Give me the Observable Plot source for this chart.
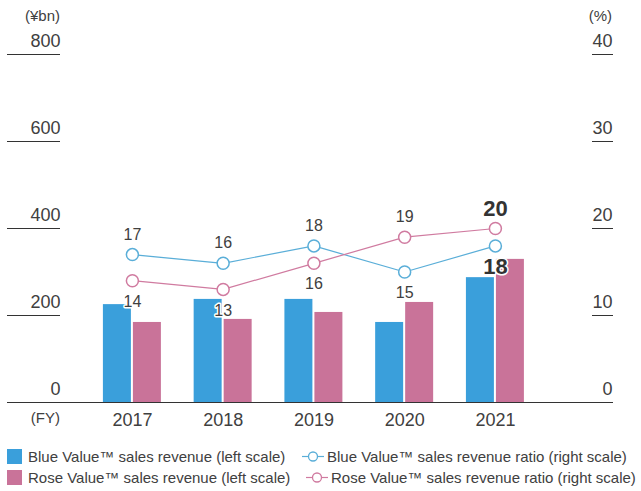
<!DOCTYPE html>
<html><head><meta charset="utf-8">
<script src="https://cdn.jsdelivr.net/npm/d3@7"></script>
<script src="https://cdn.jsdelivr.net/npm/@observablehq/plot@0.6"></script>
<style>
body{margin:0;background:#fff;}
#wrap{position:relative;width:641px;height:491px;font-family:'Liberation Sans',Arial,sans-serif;color:#404040;overflow:hidden;}
#chart svg{display:block;}
.abs{position:absolute;white-space:nowrap;font-size:15px;line-height:15px;}
.sw{position:absolute;width:15px;height:15px;}
</style></head><body><div id="wrap"><div id="chart"></div></div>
<script>
const years = ["2017", "2018", "2019", "2020", "2021"];
const blueRevenue = [225, 237, 237, 184, 287];
const roseRevenue = [184, 191, 207, 230, 329];
const blueRatio = [17, 16, 18, 15, 18];
const roseRatio = [14, 13, 16, 19, 20];
const leftTicks = [0, 200, 400, 600, 800];
const rightTicks = [0, 10, 20, 30, 40];
const boldYear = "2021";
const leftUnit = "(¥bn)";
const rightUnit = "(%)";
const xUnit = "(FY)";
const legendBars = ["Blue Value™ sales revenue (left scale)", "Rose Value™ sales revenue (left scale)"];
const legendLines = ["Blue Value™ sales revenue ratio (right scale)", "Rose Value™ sales revenue ratio (right scale)"];

const blueBar = "#3a9fdb", roseBar = "#c97399";
const blueLine = "#5aaed8", roseLine = "#d07ba0";
const ink = "#404040";
const ratioToLeft = leftTicks[leftTicks.length - 1] / rightTicks[rightTicks.length - 1];

const rows = years.map((year, i) => ({year, blue: blueRevenue[i], rose: roseRevenue[i], blueR: blueRatio[i], roseR: roseRatio[i]}));
const labelRows = rows.flatMap(d => [
  {year: d.year, v: d.blueR, above: d.blueR >= d.roseR},
  {year: d.year, v: d.roseR, above: d.roseR > d.blueR}
]);
const pick = (above, bold) => labelRows.filter(d => d.above === above && (d.year === boldYear) === bold);
const labelMark = (above, bold) => Plot.text(pick(above, bold), {
  x: "year", y: d => d.v * ratioToLeft, text: d => String(d.v),
  dy: above ? -20 : 21, fontSize: bold ? 22 : 16, fontWeight: bold ? "bold" : "normal",
  fill: bold ? "#333" : ink, stroke: "white", strokeWidth: 3, paintOrder: "stroke"
});
const rightFormat = d => String(rightTicks[leftTicks.indexOf(d)]);

const chart = Plot.plot({
  width: 641, height: 440,
  marginTop: 54, marginBottom: 38, marginLeft: 60, marginRight: 50,
  style: {fontFamily: "'Liberation Sans', Arial, sans-serif", color: ink, background: "white", overflow: "visible"},
  x: {type: "band", domain: years, paddingInner: 0.361, paddingOuter: 0.606, align: 0.39, round: false, label: null},
  y: {domain: [0, 800], label: null},
  marks: [
    Plot.barY(rows, {x: "year", y: "blue", fill: blueBar, insetRight: 30}),
    Plot.barY(rows, {x: "year", y: "rose", fill: roseBar, insetLeft: 30}),
    Plot.axisY({anchor: "left", ticks: leftTicks, tickSize: 53, fill: "none", label: null, stroke: "#333"}),
    Plot.axisY({anchor: "left", ticks: leftTicks, tickSize: 0, tickPadding: 0, dy: -13, fontSize: 18, label: null}),
    Plot.axisY({anchor: "right", ticks: leftTicks, tickSize: 21, fill: "none", label: null, stroke: "#333"}),
    Plot.axisY({anchor: "right", ticks: leftTicks, tickFormat: rightFormat, tickSize: 0, tickPadding: 21, textAnchor: "end", dy: -13, fontSize: 18, label: null}),
    Plot.axisX({tickSize: 0, tickPadding: 11, fontSize: 18, label: null}),
    Plot.ruleY([0], {stroke: "#333", strokeWidth: 1.2, insetLeft: -53, insetRight: -21}),
    Plot.lineY(rows, {x: "year", y: d => d.blueR * ratioToLeft, stroke: blueLine, strokeWidth: 1.2}),
    Plot.lineY(rows, {x: "year", y: d => d.roseR * ratioToLeft, stroke: roseLine, strokeWidth: 1.2}),
    Plot.dot(rows, {x: "year", y: d => d.blueR * ratioToLeft, r: 6, fill: "white", stroke: blueLine, strokeWidth: 1.5}),
    Plot.dot(rows, {x: "year", y: d => d.roseR * ratioToLeft, r: 6, fill: "white", stroke: roseLine, strokeWidth: 1.5}),
    labelMark(true, false), labelMark(false, false), labelMark(true, true), labelMark(false, true)
  ]
});
document.getElementById("chart").appendChild(chart);

const wrap = document.getElementById("wrap");
function addText(txt, css) {
  const s = document.createElement("div");
  s.className = "abs"; s.textContent = txt; s.style.cssText += css; wrap.appendChild(s); return s;
}
addText(leftUnit, "right:581px;top:8px;");
addText(rightUnit, "right:29px;top:8px;");
addText(xUnit, "right:581px;top:410px;");
const barColors = [blueBar, roseBar];
const lineColors = [blueLine, roseLine];
const rowTop = [449, 470];
const symLeft = [302, 306];
legendBars.forEach((t, i) => {
  const sw = document.createElement("div");
  sw.className = "sw"; sw.style.left = "7px"; sw.style.top = rowTop[i] + "px"; sw.style.background = barColors[i];
  wrap.appendChild(sw);
  addText(t, `left:28px;top:${rowTop[i]}px;`);
});
legendLines.forEach((t, i) => {
  const ns = "http://www.w3.org/2000/svg";
  const svg = document.createElementNS(ns, "svg");
  svg.setAttribute("width", 22); svg.setAttribute("height", 15);
  svg.style.position = "absolute"; svg.style.left = symLeft[i] + "px"; svg.style.top = rowTop[i] + "px";
  const ln = document.createElementNS(ns, "line");
  ln.setAttribute("x1", 0); ln.setAttribute("x2", 22); ln.setAttribute("y1", 7.5); ln.setAttribute("y2", 7.5);
  ln.setAttribute("stroke", lineColors[i]); ln.setAttribute("stroke-width", 1.2);
  const c = document.createElementNS(ns, "circle");
  c.setAttribute("cx", 11); c.setAttribute("cy", 7.5); c.setAttribute("r", 4.5);
  c.setAttribute("fill", "white"); c.setAttribute("stroke", lineColors[i]); c.setAttribute("stroke-width", 1.3);
  svg.appendChild(ln); svg.appendChild(c); wrap.appendChild(svg);
  addText(t, `left:${symLeft[i] + 25}px;top:${rowTop[i]}px;`);
});
</script></body></html>
